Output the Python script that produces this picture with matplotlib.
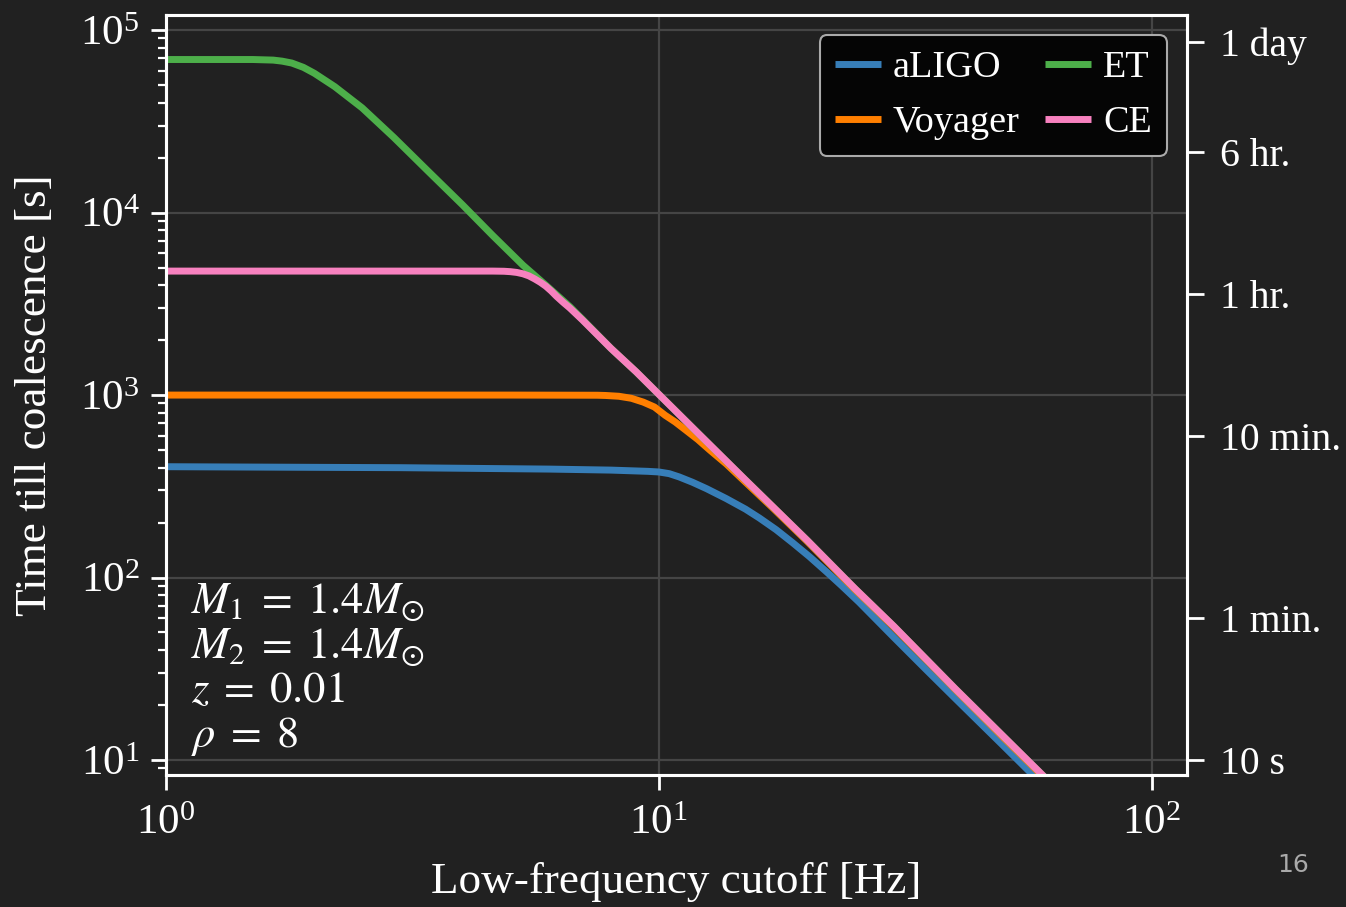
import matplotlib
matplotlib.use("Agg")
import matplotlib.pyplot as plt

# === Data ===
labels = ["aLIGO", "Voyager", "ET", "CE"]
colors = ["#377eb8", "#ff7f00", "#4daf4a", "#f781bf"]

aligo_f = [1, 3, 6, 8, 9.5, 10, 10.5, 11, 11.7, 12.5, 13.7, 15, 16, 17.3, 18.7, 20.2, 21.9, 23.5, 25.5,
           30, 35, 40, 50, 57, 62]
aligo_t = [405, 400, 393, 388, 382, 379, 371, 356, 333, 307, 271, 237, 212, 183, 155, 130.5, 107.5, 90.3, 73.3,
           47, 31, 21.7, 12, 8.45, 6.6]

voyager_f = [1, 5, 7.5, 7.8, 8.3, 8.8, 9.3, 9.8, 10.3, 10.8, 11.4, 12.0, 12.7, 13.7, 15, 17, 20, 25, 30, 40, 50, 60, 65]
voyager_t = [1000, 1000, 998, 995, 985, 960, 915, 860, 775, 712, 636, 571, 499, 420, 333, 242, 158, 86, 53.5, 24.3, 13.3, 8.2, 6.6]

et_f = [1, 1.5, 1.65, 1.72, 1.8, 1.9, 2.0, 2.2, 2.5, 2.9, 3.4, 4.0, 4.6, 5.3, 5.9, 6.6, 7, 8, 9, 10,
        12, 15, 20, 25, 30, 40, 50, 60, 65]
et_t = [69000, 69000, 68500, 67600, 66000, 62500, 58000, 49000, 37500, 25800, 16900, 11000, 7500, 5150, 4000, 3050, 2600, 1800, 1340, 1010,
        620, 342, 160, 87, 54, 24.5, 13.5, 8.3, 6.7]

ce_f = [1, 3, 4.6, 4.85, 5.0, 5.15, 5.3, 5.45, 5.6, 5.75, 5.9, 6.05, 6.2, 6.4, 6.6, 7, 8, 9, 10,
        12, 15, 20, 25, 30, 40, 50, 60, 65]
ce_t = [4780, 4780, 4780, 4770, 4745, 4700, 4620, 4500, 4330, 4150, 3950, 3720, 3480, 3220, 3000, 2580, 1800, 1340, 1010,
        620, 342, 160, 87, 54, 24.5, 13.5, 8.3, 6.7]

right_ticks = [10, 60, 600, 3600, 21600, 86400]
right_labels = ["10 s", "1 min.", "10 min.", "1 hr.", "6 hr.", "1 day"]

# === Style ===
BG = "#212121"
plt.rcParams["font.family"] = ["Liberation Serif", "DejaVu Serif"]
plt.rcParams["mathtext.fontset"] = "stix"
plt.rcParams["font.size"] = 31

fig = plt.figure(figsize=(13.46, 9.07), dpi=100, facecolor=BG)
ax = fig.add_axes([166 / 1346, 1 - 775 / 907, (1187 - 166) / 1346, (775 - 15) / 907])
ax.set_facecolor(BG)

series = [(aligo_f, aligo_t), (voyager_f, voyager_t), (et_f, et_t), (ce_f, ce_t)]
for (f, t), lab, c in zip(series, labels, colors):
    ax.plot(f, t, color=c, lw=5, label=lab, solid_capstyle="butt", solid_joinstyle="round")

ax.set_xscale("log")
ax.set_yscale("log")
ax.set_xlim(1, 118)
ax.set_ylim(8.28, 1.21e5)
ax.grid(True, which="major", color="#454545", lw=1.6)
ax.set_axisbelow(True)

for s in ax.spines.values():
    s.set_color("white")
    s.set_linewidth(2.2)
ax.tick_params(which="major", direction="out", length=11, width=2, colors="white", pad=8)
ax.tick_params(which="minor", direction="out", length=6, width=1.6, colors="white")
ax.tick_params(axis="x", pad=10)

ax.set_xlabel("Low-frequency cutoff [Hz]", color="white", labelpad=14, fontsize=32.5)
ax.set_ylabel("Time till coalescence [s]", color="white", labelpad=18, fontsize=32.5)

ax.text(0.024, 0.022,
        "$M_1\\;=\\;1.4M_{\\odot}$\n$M_2\\;=\\;1.4M_{\\odot}$\n$z\\;=\\;0.01$\n$\\rho\\;=\\;8$",
        transform=ax.transAxes, color="white", va="bottom", ha="left", linespacing=1.12, fontsize=32)

leg = ax.legend(loc="upper right", ncol=2, fontsize=27.5, facecolor="#050505", edgecolor="#aaaaaa",
                framealpha=1, handlelength=1.2, columnspacing=0.68, handletextpad=0.31,
                borderpad=0.4, labelspacing=0.54, borderaxespad=0,
                bbox_to_anchor=((1167 - 166) / 1021, (775 - 35) / 760))
leg.get_frame().set_linewidth(1.5)
for txt in leg.get_texts():
    txt.set_color("white")

ax2 = ax.twinx()
ax2.set_yscale("log")
ax2.set_ylim(ax.get_ylim())
ax2.set_yticks(right_ticks)
ax2.set_yticklabels(right_labels, fontsize=28.5)
ax2.minorticks_off()
ax2.tick_params(axis="y", direction="out", length=12, width=2, colors="white", pad=12)
for s in ax2.spines.values():
    s.set_color("white")
    s.set_linewidth(2.2)

fig.text(1293 / 1346, 1 - 865 / 907, "16", color="#aaaaaa", fontsize=18,
         family="DejaVu Sans", ha="center", va="center")

fig.savefig("out.png", dpi=100, facecolor=BG)
